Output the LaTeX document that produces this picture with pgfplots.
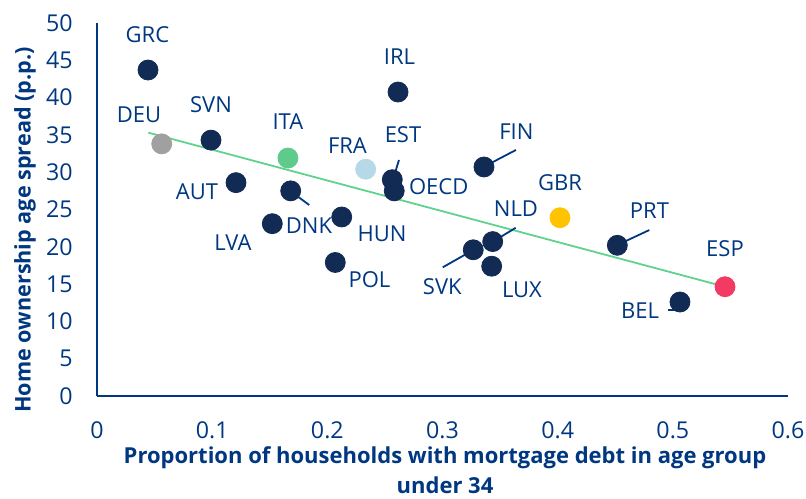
\documentclass[border=0pt]{standalone}
\usepackage{fontspec}
\setmainfont{Open Sans}
\usepackage{pgfplots}
\pgfplotsset{compat=1.18}
\definecolor{axisblue}{HTML}{003781}
\definecolor{navy}{HTML}{122B54}
\definecolor{trend}{HTML}{5FD38D}
\definecolor{itag}{HTML}{5ECB8C}
\definecolor{fral}{HTML}{B5D9E6}
\definecolor{gbry}{HTML}{FFC300}
\definecolor{espr}{HTML}{F23A62}
\definecolor{deug}{HTML}{A0A0A0}
\newcommand{\lab}[3]{\node[font=\fontsize{11}{12}\selectfont, text=axisblue, inner sep=0pt] at (axis cs:#1,#2) {#3};}
\begin{document}
\begin{tikzpicture}
\begin{axis}[
  scale only axis, width=345.5pt, height=186.5pt,
  xmin=0, xmax=0.6, ymin=0, ymax=50,
  axis lines=left,
  axis line style={draw=axisblue, line width=1pt, -},
  xtick={0,0.1,0.2,0.3,0.4,0.5,0.6},
  xticklabels={0,0.1,0.2,0.3,0.4,0.5,0.6},
  ytick={0,5,10,15,20,25,30,35,40,45,50},
  major tick length=0pt,
  /pgf/number format/assume math mode=true,
  tick label style={font=\fontsize{11.6}{12}\selectfont, text=axisblue, inner sep=0pt},
  xticklabel style={anchor=center, yshift=-17pt},
  yticklabel style={anchor=east, xshift=-12pt},
  xlabel={Proportion of households with mortgage debt in age group\\under 34},
  xlabel style={font=\bfseries\fontsize{11}{15}\selectfont, text=axisblue, align=center, at={(axis description cs:0.5,0)}, anchor=north, yshift=-25pt, xshift=1.25pt, inner sep=0pt},
  ylabel={Home ownership age spread (p.p.)},
  ylabel style={font=\bfseries\fontsize{10.8}{13}\selectfont, text=axisblue, at={(axis description cs:-0.1042,0.445)}, anchor=center, inner sep=0pt},
  clip=false,
]
% dark points
\addplot[navy, only marks, mark=*, mark size=5pt] coordinates {
(0.0443,43.7) (0.0990,34.3) (0.1207,28.6) (0.1682,27.5) (0.1522,23.1)
(0.2125,24.0) (0.2564,29.0) (0.2581,27.5) (0.2614,40.75) (0.2069,17.9)
(0.3360,30.7) (0.3436,20.7) (0.3267,19.6) (0.3427,17.4) (0.4518,20.2)
(0.5062,12.6)
};
\addplot[deug, only marks, mark=*, mark size=5pt] coordinates {(0.0562,33.8)};
\addplot[itag, only marks, mark=*, mark size=5pt] coordinates {(0.1658,31.9)};
\addplot[fral, only marks, mark=*, mark size=5pt] coordinates {(0.2333,30.4)};
\addplot[gbry, only marks, mark=*, mark size=5pt] coordinates {(0.4020,23.9)};
\addplot[espr, only marks, mark=*, mark size=5pt] coordinates {(0.5453,14.65)};
% trend line
\addplot[trend, line width=0.9pt, no marks] coordinates {(0.0446,35.3) (0.5453,14.65)};
% leader lines
\addplot[axisblue, line width=0.9pt, no marks] coordinates {(0.2569,28.95) (0.2622,31.64)};
\addplot[axisblue, line width=0.9pt, no marks] coordinates {(0.1682,27.44) (0.1843,25.6)};
\addplot[axisblue, line width=0.9pt, no marks] coordinates {(0.3360,30.74) (0.3638,32.98)};
\addplot[axisblue, line width=0.9pt, no marks] coordinates {(0.3436,20.68) (0.3636,22.55)};
\addplot[axisblue, line width=0.9pt, no marks] coordinates {(0.3267,19.57) (0.3002,17.25)};
\addplot[axisblue, line width=0.9pt, no marks] coordinates {(0.4518,20.24) (0.4796,22.25)};
\addplot[axisblue, line width=0.9pt, no marks] coordinates {(0.5062,12.64) (0.5062,11.53) (0.4960,11.53)};
% labels
\lab{0.0438}{48.4}{GRC}
\lab{0.0365}{37.7}{DEU}
\lab{0.0990}{39.1}{SVN}
\lab{0.1658}{36.8}{ITA}
\lab{0.2175}{33.6}{FRA}
\lab{0.2657}{35.1}{EST}
\lab{0.2627}{45.5}{IRL}
\lab{0.2967}{28.06}{OECD}
\lab{0.3641}{35.4}{FIN}
\lab{0.4020}{28.65}{GBR}
\lab{0.3638}{25.07}{NLD}
\lab{0.4797}{24.84}{PRT}
\lab{0.5453}{19.7}{ESP}
\lab{0.0868}{27.35}{AUT}
\lab{0.1841}{22.9}{DNK}
\lab{0.1181}{20.55}{LVA}
\lab{0.2475}{21.7}{HUN}
\lab{0.2366}{15.64}{POL}
\lab{0.2998}{14.65}{SVK}
\lab{0.3690}{14.2}{LUX}
\lab{0.4715}{11.43}{BEL}
\end{axis}
\useasboundingbox (-48.5pt,-51pt) rectangle (354.5pt,198pt);
\end{tikzpicture}
\end{document}
